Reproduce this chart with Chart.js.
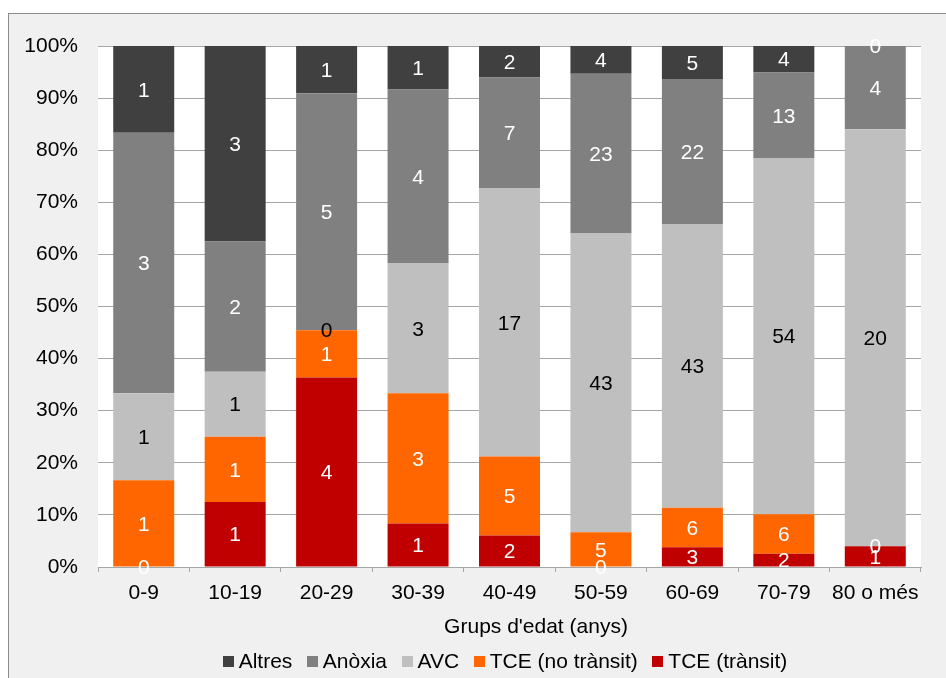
<!DOCTYPE html>
<html>
<head>
<meta charset="utf-8">
<script src="https://cdn.jsdelivr.net/npm/chart.js@4/dist/chart.umd.min.js"></script>
<style>
html,body{margin:0;padding:0;background:#fff;}
canvas{display:block;}
</style>
</head>
<body>
<canvas id="c" width="946" height="678"></canvas>
<script>
// ---- data ----
const categories = ['0-9','10-19','20-29','30-39','40-49','50-59','60-69','70-79','80 o més'];
const altres       = [1, 3, 1, 1, 2, 4, 5, 4, 0];
const anoxia       = [3, 2, 5, 4, 7, 23, 22, 13, 4];
const avc          = [1, 1, 0, 3, 17, 43, 43, 54, 20];
const tceNoTransit = [1, 1, 1, 3, 5, 5, 6, 6, 0];
const tceTransit   = [0, 1, 4, 1, 2, 0, 3, 2, 1];
const yTickLabels  = ['0%','10%','20%','30%','40%','50%','60%','70%','80%','90%','100%'];
const xTitle = "Grups d'edat (anys)";

const FONT = 'Liberation Sans, Arial, sans-serif';

// stack bottom -> top
const series = [
  {label: 'TCE (trànsit)',    counts: tceTransit,   color: '#c00000', text: '#ffffff'},
  {label: 'TCE (no trànsit)', counts: tceNoTransit, color: '#ff6600', text: '#ffffff'},
  {label: 'AVC',              counts: avc,          color: '#bfbfbf', text: '#000000'},
  {label: 'Anòxia',           counts: anoxia,       color: '#808080', text: '#ffffff'},
  {label: 'Altres',           counts: altres,       color: '#404040', text: '#ffffff'}
];
const totals = categories.map((_, j) => series.reduce((s, d) => s + d.counts[j], 0));

const datasets = series.map(s => ({
  label: s.label,
  data: s.counts.map((v, j) => v / totals[j] * 100),
  backgroundColor: s.color,
  borderWidth: 0,
  categoryPercentage: 1.0,
  barPercentage: 0.667
}));

const bgPlugin = {
  id: 'bg',
  beforeDraw(chart) {
    const ctx = chart.ctx, a = chart.chartArea;
    ctx.save();
    ctx.fillStyle = '#ffffff';
    ctx.fillRect(0, 0, chart.width, chart.height);
    ctx.fillStyle = '#f0f0f0';
    ctx.fillRect(8, 13, chart.width, chart.height);
    ctx.strokeStyle = '#8c8c8c';
    ctx.lineWidth = 1;
    ctx.strokeRect(8.5, 13.5, chart.width + 10, chart.height + 10);
    ctx.fillStyle = '#ffffff';
    ctx.fillRect(a.left, a.top, a.right - a.left, a.bottom - a.top);
    ctx.restore();
  }
};

const labelPlugin = {
  id: 'vals',
  afterDatasetsDraw(chart) {
    const ctx = chart.ctx;
    ctx.save();
    ctx.font = '21px ' + FONT;
    ctx.textAlign = 'center';
    ctx.textBaseline = 'middle';
    series.forEach((s, i) => {
      const meta = chart.getDatasetMeta(i);
      meta.data.forEach((el, j) => {
        ctx.fillStyle = s.text;
        ctx.fillText(String(s.counts[j]), el.x, (el.y + el.base) / 2 + 1.5);
      });
    });
    ctx.restore();
  }
};

const legendPlugin = {
  id: 'customLegend',
  afterDraw(chart) {
    const ctx = chart.ctx;
    ctx.save();
    // axis title
    ctx.font = '21px ' + FONT;
    ctx.fillStyle = '#000';
    ctx.textAlign = 'center';
    ctx.textBaseline = 'middle';
    ctx.fillText(xTitle, 536, 627);
    // legend
    const items = chart.data.datasets.slice().reverse();
    const box = 11, gap = 5, sep = 14.5;
    let total = 0;
    items.forEach((d, k) => {
      total += box + gap + ctx.measureText(d.label).width + (k < items.length - 1 ? sep : 0);
    });
    let x = 505 - total / 2;
    const yc = 661;
    ctx.textAlign = 'left';
    items.forEach(d => {
      ctx.fillStyle = d.backgroundColor;
      ctx.fillRect(Math.round(x), Math.round(yc - box / 2), box, box);
      x += box + gap;
      ctx.fillStyle = '#000';
      ctx.fillText(d.label, x, yc + 1);
      x += ctx.measureText(d.label).width + sep;
    });
    ctx.restore();
  }
};

new Chart(document.getElementById('c'), {
  type: 'bar',
  data: {labels: categories, datasets},
  options: {
    responsive: false,
    animation: false,
    devicePixelRatio: 1,
    layout: {padding: {left: 10, right: 25, top: 46, bottom: 66}},
    plugins: {legend: {display: false}, tooltip: {enabled: false}},
    scales: {
      x: {
        stacked: true,
        offset: true,
        afterFit(s) { s.height = 45; },
        grid: {display: true, drawOnChartArea: false, drawTicks: true, tickLength: 5, color: '#a6a6a6', offset: true},
        border: {display: true, color: '#a6a6a6'},
        ticks: {color: '#000', font: {family: FONT, size: 21}, padding: 9, maxRotation: 0, autoSkip: false},
        title: {display: false, text: xTitle}
      },
      y: {
        stacked: true,
        min: 0, max: 100,
        afterFit(s) { s.width = 88; },
        afterBuildTicks(s) { s.ticks = yTickLabels.map((_, k) => ({value: k * 10})); },
        grid: {color: '#a6a6a6', drawTicks: false},
        border: {display: false},
        ticks: {color: '#000', font: {family: FONT, size: 21}, padding: 20,
                callback: (v, k) => yTickLabels[k]}
      }
    }
  },
  plugins: [bgPlugin, labelPlugin, legendPlugin]
});
</script>
</body>
</html>
